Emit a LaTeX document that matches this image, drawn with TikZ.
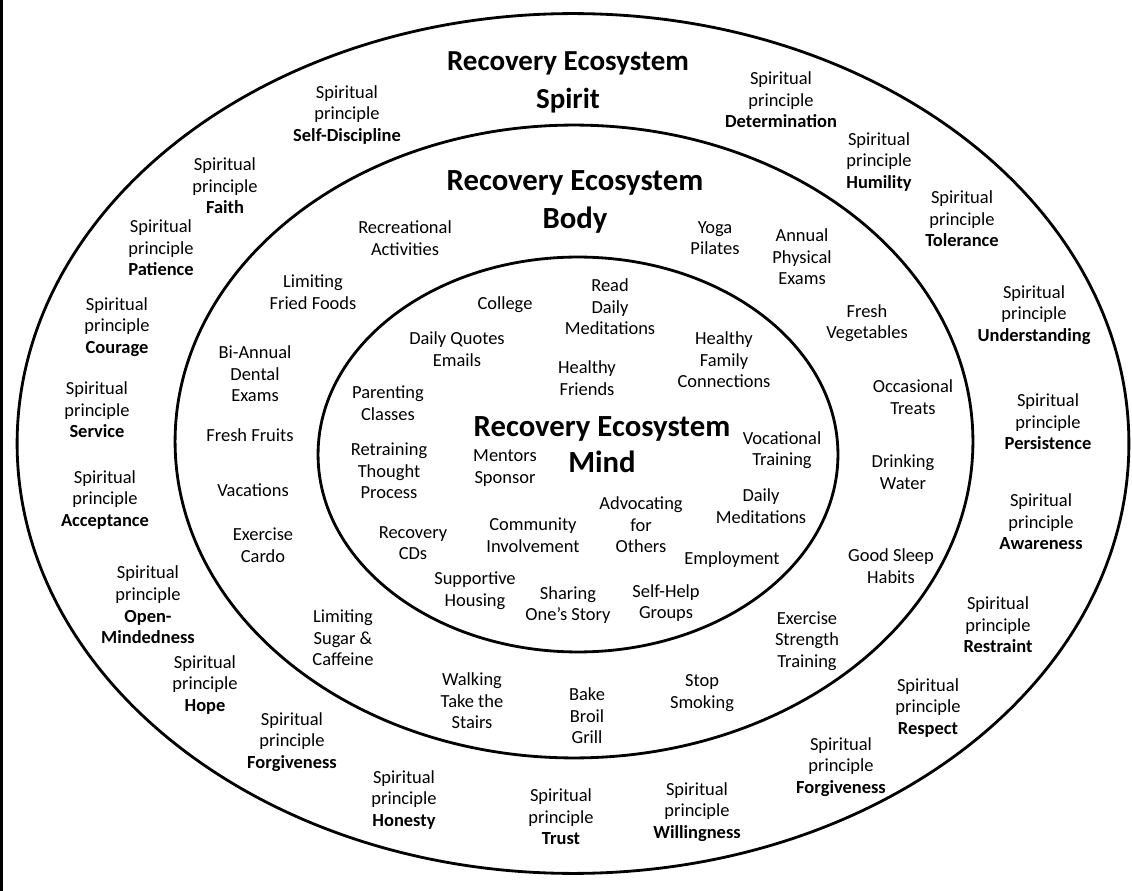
\documentclass[tikz,border=0pt]{standalone}
\usepackage{fontspec}
\setmainfont{Carlito}

\newcommand{\principle}[1]{Spiritual\\principle\\\textbf{#1}}

\tikzset{
  item/.style={align=center, inner sep=0pt, font=\fontsize{10.5}{12.3}\selectfont},
  ringtitle/.style={align=center, inner sep=0pt, font=\fontsize{17.5}{21.5}\selectfont\bfseries},
  ring/.style={line width=1.6pt}
}

\begin{document}
\begin{tikzpicture}[x=0.02cm, y=-0.02cm]
    \useasboundingbox (0,0) rectangle (1132,891);
    \fill (0,0) rectangle (3,891);

    % Rings
    \draw[ring] (573,443.5) ellipse [x radius=11.12cm, y radius=8.6cm];
    \draw[ring] (574,441.5) ellipse [x radius=7.98cm, y radius=6.33cm];
    \draw[ring] (578,454.5) ellipse [x radius=5.2cm, y radius=3.95cm];

    % Spirit
    \node[ringtitle, font=\fontsize{16.5}{21.5}\selectfont\bfseries] (spirit) at (568,82) {Recovery Ecosystem\\Spirit};
    \node[item] (selfdisc) at (347,115) {\principle{Self-Discipline}};
    \node[item] (faith) at (225,186) {\principle{Faith}};
    \node[item] (patience) at (161,248) {\principle{Patience}};
    \node[item] (courage) at (117,327) {\principle{Courage}};
    \node[item] (service) at (97,410) {\principle{Service}};
    \node[item] (acceptance) at (105,500) {\principle{Acceptance}};
    \node[item] (openmind) at (148,605) {Spiritual\\principle\\\textbf{Open-}\\\textbf{Mindedness}};
    \node[item] (hope) at (205,685) {\principle{Hope}};
    \node[item] (forgiveleft) at (292,742) {\principle{Forgiveness}};
    \node[item] (honesty) at (404,800) {\principle{Honesty}};
    \node[item] (trust) at (561,817) {\principle{Trust}};
    \node[item] (willing) at (697,812) {\principle{Willingness}};
    \node[item] (forgiveright) at (841,767) {\principle{Forgiveness}};
    \node[item] (respect) at (928,708) {\principle{Respect}};
    \node[item] (restraint) at (998,625) {\principle{Restraint}};
    \node[item] (awareness) at (1041,522) {\principle{Awareness}};
    \node[item] (persist) at (1048,422) {\principle{Persistence}};
    \node[item] (understand) at (1034,315) {\principle{Understanding}};
    \node[item] (tolerance) at (962,219) {\principle{Tolerance}};
    \node[item] (humility) at (879,162) {\principle{Humility}};
    \node[item] (determ) at (781,100) {\principle{Determination}};

    % Body
    \node[ringtitle] (body) at (575,202) {Recovery Ecosystem\\Body};
    \node[item] (recreation) at (405,238) {Recreational\\Activities};
    \node[item] (yoga) at (715,238) {Yoga\\Pilates};
    \node[item] (physical) at (802,257) {Annual\\Physical\\Exams};
    \node[item] (fried) at (313,292) {Limiting\\Fried Foods};
    \node[item] (vegetables) at (867,323) {Fresh\\Vegetables};
    \node[item] (dental) at (255,374) {Bi-Annual\\Dental\\Exams};
    \node[item] (fruits) at (250,435) {Fresh Fruits};
    \node[item] (vacations) at (253,490) {Vacations};
    \node[item] (cardio) at (263,545) {Exercise\\Cardo};
    \node[item] (treats) at (913,397) {Occasional\\Treats};
    \node[item] (water) at (903,472) {Drinking\\Water};
    \node[item] (sleep) at (891,566) {Good Sleep\\Habits};
    \node[item] (sugar) at (343,638) {Limiting\\Sugar \&\\Caffeine};
    \node[item] (walking) at (472,701) {Walking\\Take the\\Stairs};
    \node[item] (bake) at (587,716) {Bake\\Broil\\Grill};
    \node[item] (smoking) at (702,693) {Stop\\Smoking};
    \node[item] (strength) at (807,641) {Exercise\\Strength\\Training};

    % Mind
    \node[ringtitle, font=\fontsize{17.5}{20.5}\selectfont\bfseries] (mind) at (602,445) {Recovery Ecosystem\\Mind};
    \node[item] (readmed) at (610,307) {Read\\Daily\\Meditations};
    \node[item] (college) at (505,305) {College};
    \node[item] (quotes) at (457,349) {Daily Quotes\\Emails};
    \node[item] (friends) at (587,378) {Healthy\\Friends};
    \node[item] (family) at (724,360) {Healthy\\Family\\Connections};
    \node[item] (parenting) at (388,403) {Parenting\\Classes};
    \node[item] (retrain) at (389,471) {Retraining\\Thought\\Process};
    \node[item] (mentors) at (505,468) {Mentors\\Sponsor};
    \node[item] (vocational) at (782,450) {Vocational\\Training};
    \node[item] (dailymed) at (761,506) {Daily\\Meditations};
    \node[item] (advocating) at (641,525) {Advocating\\for\\Others};
    \node[item] (community) at (533,535) {Community\\Involvement};
    \node[item] (cds) at (413,543) {Recovery\\CDs};
    \node[item] (employment) at (732,560) {Employment};
    \node[item] (housing) at (475,591) {Supportive\\Housing};
    \node[item] (story) at (568,605) {Sharing\\One’s Story};
    \node[item] (selfhelp) at (666,603) {Self-Help\\Groups};
\end{tikzpicture}
\end{document}
